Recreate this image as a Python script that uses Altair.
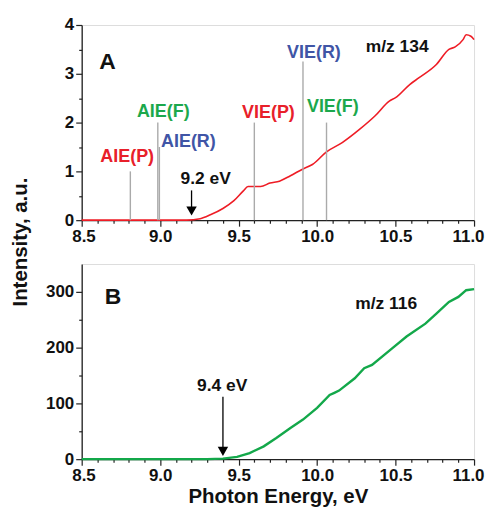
import altair as alt
import pandas as pd

# ---------------- data ----------------
energy_a = [8.5, 9.0, 9.17, 9.255, 9.32, 9.40, 9.47, 9.53, 9.56, 9.59, 9.64, 9.70, 9.76,
            9.83, 9.91, 9.97, 10.06, 10.16, 10.27, 10.37, 10.46, 10.50, 10.59, 10.65,
            10.76, 10.84, 10.88, 10.93, 10.95, 10.98, 11.0]
intensity_a = [0, 0, 0, 0.03, 0.11, 0.24, 0.40, 0.60, 0.69, 0.69, 0.69, 0.76, 0.80,
               0.91, 1.05, 1.14, 1.40, 1.59, 1.86, 2.14, 2.44, 2.51, 2.78, 2.92,
               3.19, 3.50, 3.55, 3.70, 3.80, 3.77, 3.70]

energy_b = [8.5, 9.3, 9.40, 9.49, 9.57, 9.66, 9.74, 9.83, 9.91, 10.0, 10.08, 10.11,
            10.14, 10.24, 10.30, 10.35, 10.48, 10.57, 10.69, 10.76, 10.84, 10.90, 10.95, 11.0]
intensity_b = [0, 0, 1, 4, 11, 23, 38, 56, 71, 92, 115, 119,
               123, 145, 163, 169, 199, 220, 243, 261, 282, 291, 303, 305]

marker_labels = ["AIE(P)", "AIE(F)", "AIE(R)", "VIE(P)", "VIE(R)", "VIE(F)"]
marker_energy = [8.81, 8.985, 8.995, 9.60, 9.91, 10.06]
marker_height = [1.0, 2.0, 1.5, 2.0, 3.25, 2.0]
label_energy = [8.79, 9.02, 9.18, 9.69, 9.98, 10.10]
label_level = [1.29, 2.22, 1.61, 2.20, 3.43, 2.31]
label_colors = ["#e8202a", "#1ba84c", "#4055a6", "#e8202a", "#4055a6", "#1ba84c"]

onset_a = {"x": [9.2], "top": [0.61], "tip": [0.19], "lx": [9.29], "ly": [0.84], "label": ["9.2 eV"]}
onset_b = {"x": [9.4], "top": [112], "tip": [14], "lx": [9.395], "ly": [132], "label": ["9.4 eV"]}

panel_a_text = {"x": [8.665, 10.51], "y": [3.24, 3.55], "t": ["A", "m/z 134"], "s": [23, 17.5]}
panel_b_text = {"x": [8.70, 10.44], "y": [291, 278.6], "t": ["B", "m/z 116"], "s": [23, 17.5]}

x_major = [8.5, 9.0, 9.5, 10.0, 10.5, 11.0]
x_minor = [8.6, 8.7, 8.8, 8.9, 9.1, 9.2, 9.3, 9.4, 9.6, 9.7, 9.8, 9.9,
           10.1, 10.2, 10.3, 10.4, 10.6, 10.7, 10.8, 10.9]
ya_major = [0, 1, 2, 3, 4]
ya_minor = [0.5, 1.5, 2.5, 3.5]
yb_major = [0, 100, 200, 300]
yb_minor = [50, 150, 250]

x_title = "Photon Energy, eV"
y_title = "Intensity, a.u."

FONT = "Liberation Sans"
AXC = "#222222"


# ---------------- axes ----------------
def major_axis(values, fmt, title=None, is_x=False):
    kw = dict(
        values=values, format=fmt, tickSize=6, labelOverlap=False, grid=False,
        labelFont=FONT, labelFontSize=17, labelFontWeight="bold", labelColor="#111111",
        domainColor=AXC, tickColor=AXC, domainWidth=1.3, tickWidth=1.2, labelPadding=2,
    )
    if is_x:
        kw.update(labelFlush=True, labelFlushOffset=10)
    if title:
        kw.update(title=title, titleFont=FONT, titleFontSize=20.5, titleFontWeight="bold",
                  titleColor="#111111", titlePadding=4)
    else:
        kw.update(title=None)
    return alt.Axis(**kw)


def minor_axis(values, orient):
    return alt.Axis(values=values, tickSize=3, labels=False, domain=False, grid=False,
                    title=None, tickColor=AXC, tickWidth=1.2, orient=orient)


xs = alt.Scale(domain=[8.5, 11.0], nice=False, zero=False)
ysa = alt.Scale(domain=[0, 4], nice=False)
ysb = alt.Scale(domain=[0, 350], nice=False)

W, H = 394, 196


def minor_layer(df, yscale, xminor, yminor):
    return alt.Chart(df).mark_line(opacity=0).encode(
        x=alt.X("e:Q", scale=xs, axis=minor_axis(xminor, "bottom")),
        y=alt.Y("i:Q", scale=yscale, axis=minor_axis(yminor, "left")),
    )


# ---------------- panel A ----------------
df_a = pd.DataFrame({"e": energy_a, "i": intensity_a})
df_m = pd.DataFrame({"lab": marker_labels, "e": marker_energy, "h": marker_height,
                     "le": label_energy, "ll": label_level})

line_a = alt.Chart(df_a).mark_line(color="#ee1c25", strokeWidth=1.6, interpolate="monotone").encode(
    x=alt.X("e:Q", scale=xs, axis=major_axis(x_major, ".1f", is_x=True)),
    y=alt.Y("i:Q", scale=ysa, axis=major_axis(ya_major, "d")),
)
rules_a = alt.Chart(df_m).mark_rule(color="#aaaaaa", strokeWidth=1.4).encode(
    x=alt.X("e:Q", axis=None), y=alt.Y("zero:Q", axis=None), y2="h:Q"
).transform_calculate(zero="0")
labels_a = alt.Chart(df_m).mark_text(font=FONT, fontSize=18, fontWeight="bold", baseline="middle").encode(
    x=alt.X("le:Q", axis=None), y=alt.Y("ll:Q", axis=None), text="lab:N",
    color=alt.Color("lab:N", scale=alt.Scale(domain=marker_labels, range=label_colors), legend=None),
)
df_oa = pd.DataFrame(onset_a)
arrow_a = alt.Chart(df_oa).mark_rule(color="#000000", strokeWidth=1.3).encode(
    x=alt.X("x:Q", axis=None), y=alt.Y("top:Q", axis=None), y2="tip:Q")
head_a = alt.Chart(df_oa).mark_point(shape="triangle-down", filled=True, color="#000000", size=110, opacity=1).encode(
    x=alt.X("x:Q", axis=None), y=alt.Y("tip:Q", axis=None))
onset_lab_a = alt.Chart(df_oa).mark_text(font=FONT, fontSize=17.5, fontWeight="bold", color="#111111").encode(
    x=alt.X("lx:Q", axis=None), y=alt.Y("ly:Q", axis=None), text="label:N")
texts_a = alt.Chart(pd.DataFrame(panel_a_text)).mark_text(font=FONT, fontWeight="bold", color="#111111").encode(
    x=alt.X("x:Q", axis=None), y=alt.Y("y:Q", axis=None), text="t:N",
    size=alt.Size("s:Q", scale=None, legend=None))
ytitle = alt.Chart(pd.DataFrame({"t": [y_title]})).mark_text(
    font=FONT, fontSize=20.5, fontWeight="bold", angle=270, color="#111111", baseline="middle"
).encode(x=alt.value(-61), y=alt.value(218), text="t:N")

panel_a = alt.layer(
    line_a, minor_layer(df_a, ysa, x_minor, ya_minor),
    rules_a, labels_a, arrow_a, head_a, onset_lab_a, texts_a, ytitle
).resolve_axis(x="independent", y="independent").properties(width=W, height=H)

# ---------------- panel B ----------------
df_b = pd.DataFrame({"e": energy_b, "i": intensity_b})
line_b = alt.Chart(df_b).mark_line(color="#13a84a", strokeWidth=2.4).encode(
    x=alt.X("e:Q", scale=xs, axis=major_axis(x_major, ".1f", x_title, is_x=True)),
    y=alt.Y("i:Q", scale=ysb, axis=major_axis(yb_major, "d")),
)
df_ob = pd.DataFrame(onset_b)
arrow_b = alt.Chart(df_ob).mark_rule(color="#000000", strokeWidth=1.3).encode(
    x=alt.X("x:Q", axis=None), y=alt.Y("top:Q", axis=None), y2="tip:Q")
head_b = alt.Chart(df_ob).mark_point(shape="triangle-down", filled=True, color="#000000", size=110, opacity=1).encode(
    x=alt.X("x:Q", axis=None), y=alt.Y("tip:Q", axis=None))
onset_lab_b = alt.Chart(df_ob).mark_text(font=FONT, fontSize=17.5, fontWeight="bold", color="#111111").encode(
    x=alt.X("lx:Q", axis=None), y=alt.Y("ly:Q", axis=None), text="label:N")
texts_b = alt.Chart(pd.DataFrame(panel_b_text)).mark_text(font=FONT, fontWeight="bold", color="#111111").encode(
    x=alt.X("x:Q", axis=None), y=alt.Y("y:Q", axis=None), text="t:N",
    size=alt.Size("s:Q", scale=None, legend=None))

panel_b = alt.layer(
    line_b, minor_layer(df_b, ysb, x_minor, yb_minor),
    arrow_b, head_b, onset_lab_b, texts_b
).resolve_axis(x="independent", y="independent").properties(width=W, height=H)

chart = alt.vconcat(panel_a, panel_b, spacing=44, bounds="flush").properties(
    padding={"left": 2, "top": 6, "right": 0, "bottom": 5}
).configure_view(stroke="#555555", strokeWidth=1.3).configure(background="white")

chart.save("out.html", embed_options={"renderer": "svg", "actions": False})
